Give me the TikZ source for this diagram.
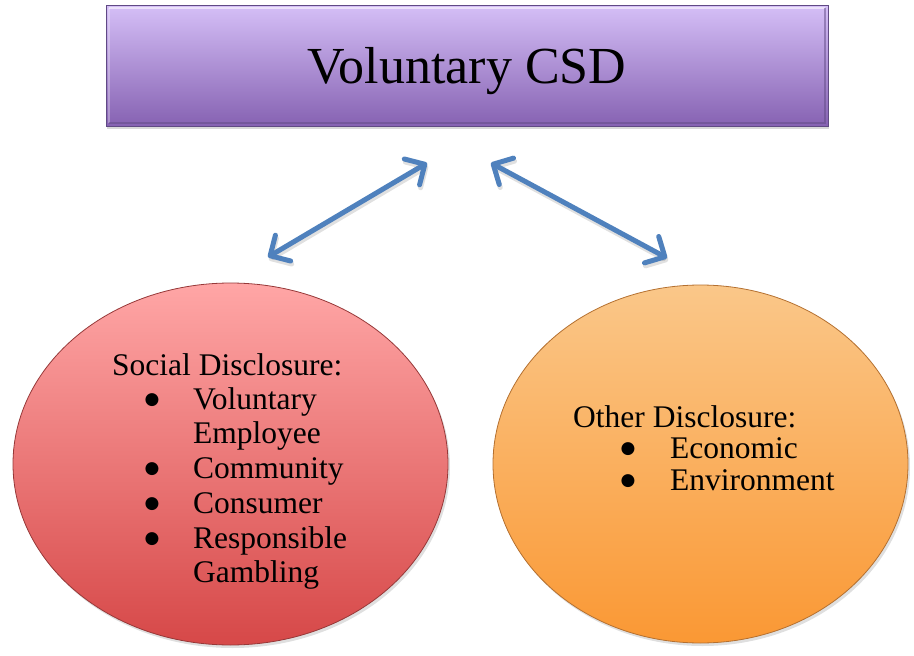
\documentclass[tikz,border=0pt]{standalone}
\usepackage{fontspec}
\setmainfont{Liberation Serif}
\newfontfamily\markfont{DejaVu Sans}
\usetikzlibrary{shapes.geometric,arrows.meta,shadows}

\definecolor{boxtop}{RGB}{213,191,247}
\definecolor{boxbot}{RGB}{134,98,178}
\definecolor{boxrim}{RGB}{96,74,132}
\definecolor{socialtop}{RGB}{255,166,166}
\definecolor{socialbot}{RGB}{214,72,72}
\definecolor{socialrim}{RGB}{150,56,56}
\definecolor{othertop}{RGB}{250,199,137}
\definecolor{otherbot}{RGB}{250,152,52}
\definecolor{otherrim}{RGB}{180,112,48}
\definecolor{linkblue}{RGB}{79,129,189}

\begin{document}
\begin{tikzpicture}[x=1pt,y=-1pt,
  titlebox/.style={rectangle, minimum width=722pt, minimum height=121pt,
    inner sep=0pt, top color=boxtop, bottom color=boxbot,
    draw=boxrim, line width=0.8pt,
    drop shadow={opacity=0.3, shadow xshift=1pt, shadow yshift=-3pt},
    font=\fontsize{52}{52}\selectfont, text height=35pt, text depth=0pt},
  bubble/.style={ellipse, inner sep=0pt, line width=0.8pt,
    drop shadow={opacity=0.25, shadow xshift=2pt, shadow yshift=-3pt}},
  txt/.style={anchor=base west, inner sep=0pt, font=\fontsize{31.5}{31.5}\selectfont},
  % solid round bullet, centred on the list's mid x-height
  bul/.style={anchor=center, inner sep=0pt, yshift=9pt, font=\markfont\fontsize{17}{17}\selectfont},
  linkarrow/.style={draw=linkblue, line width=5pt, line cap=round, line join=round,
    {Straight Barb[length=15pt,width=30pt,line cap=round,line join=round]}-{Straight Barb[length=15pt,width=30pt,line cap=round,line join=round]}},
  linkshadow/.style={linkarrow, draw=black, opacity=0.12,
    transform canvas={xshift=1pt,yshift=-3pt}}
]
\useasboundingbox (0,0) rectangle (914,656);

% header box
\node[titlebox] (csd) at (467,65.5) {Voluntary CSD};
% bevel highlights and edge shading
\draw[white, opacity=0.55, line width=2pt]
  ([xshift=3pt,yshift=-3pt]csd.north west) -- ([xshift=-3pt,yshift=-3pt]csd.north east);
\draw[white, opacity=0.3, line width=2pt]
  ([xshift=3pt,yshift=-3pt]csd.north west) -- ([xshift=3pt,yshift=3pt]csd.south west);
\draw[boxrim, opacity=0.5, line width=2pt]
  ([xshift=3pt,yshift=3pt]csd.south west) -- ([xshift=-3pt,yshift=3pt]csd.south east)
  -- ([xshift=-3pt,yshift=-3pt]csd.north east);

% the two disclosure groups
\node[bubble, minimum width=435pt, minimum height=362pt,
  top color=socialtop, bottom color=socialbot, draw=socialrim] (social) at (230.5,464) {};
\node[bubble, minimum width=415pt, minimum height=358pt,
  top color=othertop, bottom color=otherbot, draw=otherrim] (other) at (700.5,464) {};

% arrow end points below the header
\coordinate (lefthigh) at (427,163);
\coordinate (leftlow) at (268,257);
\coordinate (righthigh) at (491,163);
\coordinate (rightlow) at (667,258);

\draw[linkshadow] (leftlow) -- (lefthigh);
\draw[linkshadow] (righthigh) -- (rightlow);
\draw[linkarrow] (leftlow) -- (lefthigh);
\draw[linkarrow] (righthigh) -- (rightlow);

% social disclosure list
\node[txt] (sochead) at (112,375) {Social Disclosure:};
\node[bul] (sb1) at (152,409) {●};
\node[txt] (si1) at (193,409) {Voluntary};
\node[txt] (si1b) at (193,443) {Employee};
\node[bul] (sb2) at (152,478) {●};
\node[txt] (si2) at (193,478) {Community};
\node[bul] (sb3) at (152,513) {●};
\node[txt] (si3) at (193,513) {Consumer};
\node[bul] (sb4) at (152,548) {●};
\node[txt] (si4) at (193,548) {Responsible};
\node[txt] (si4b) at (193,582) {Gambling};

% other disclosure list
\node[txt] (othhead) at (573,427) {Other Disclosure:};
\node[bul] (ob1) at (628,458) {●};
\node[txt] (oi1) at (670,458) {Economic};
\node[bul] (ob2) at (628,490) {●};
\node[txt] (oi2) at (670,490) {Environment};
\end{tikzpicture}
\end{document}
